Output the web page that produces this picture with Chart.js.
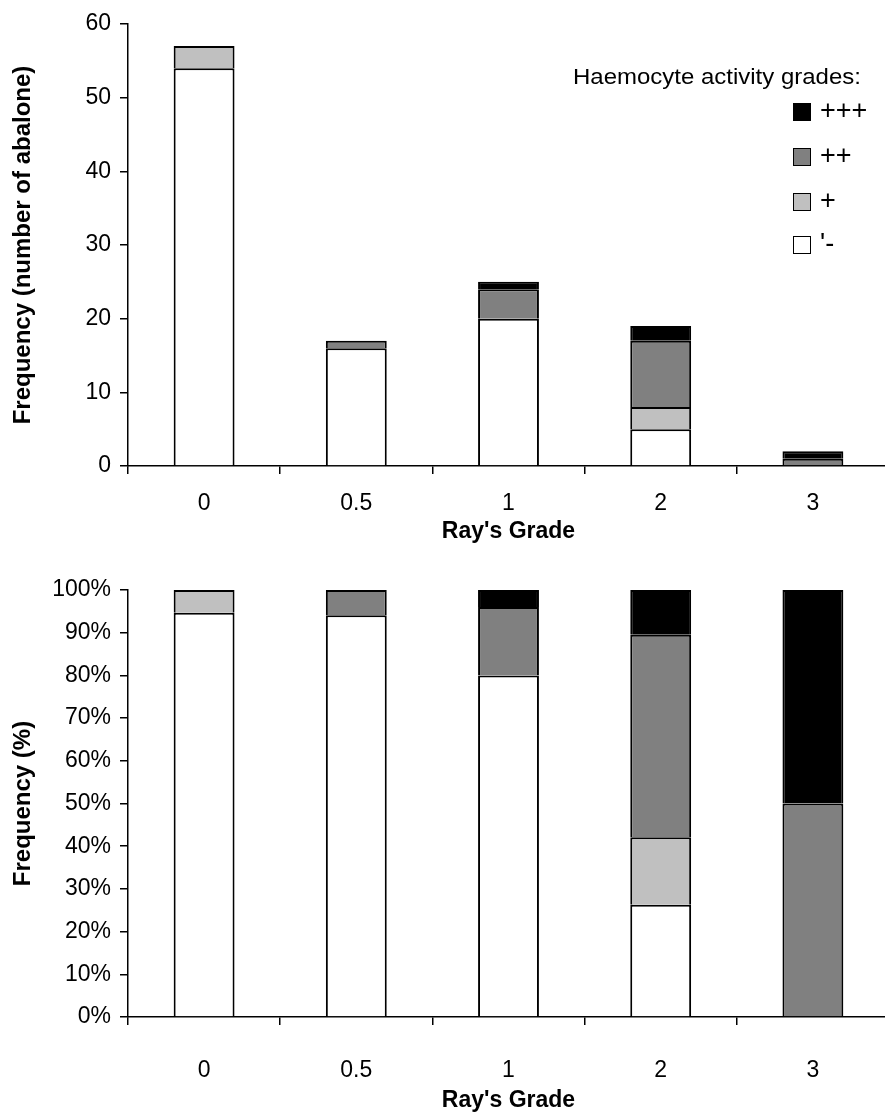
<!DOCTYPE html>
<html>
<head>
<meta charset="utf-8">
<script src="https://cdn.jsdelivr.net/npm/chart.js@4/dist/chart.umd.min.js"></script>
<style>
  html, body { margin:0; padding:0; background:#fff; }
  body { width:885px; height:1113px; overflow:hidden; position:relative; font-family:"Liberation Sans", Arial, sans-serif; }
  .box { position:absolute; left:0; width:889px; }
  #legend { position:absolute; left:0; top:0; width:885px; height:300px; pointer-events:none; color:#000; }
  #legend .title { position:absolute; left:573px; top:64px; font-size:22px; line-height:26px; white-space:nowrap; transform:scaleX(1.09); transform-origin:0 0; }
  #legend .item { position:absolute; left:793px; height:26px; white-space:nowrap; }
  #legend .sw { position:absolute; left:0; top:2px; width:16px; height:16px; border:1.5px solid #000; }
  #legend .lb { position:absolute; left:27px; top:-4px; font-size:27px; line-height:26px; }
</style>
</head>
<body>
<div class="box" style="top:0;height:550px;"><canvas id="c1"></canvas></div>
<div class="box" style="top:550px;height:570px;"><canvas id="c2"></canvas></div>
<div id="legend"></div>
<script>
// ---- data ----
const categories = ['0', '0.5', '1', '2', '3'];
const seriesNames = ["'-", '+', '++', '+++'];
const seriesColors = ['#ffffff', '#c0c0c0', '#808080', '#000000'];
const legendTitle = 'Haemocyte activity grades:';

const countMinus = [54, 16, 20, 5, 0];
const countPlus = [3, 0, 0, 3, 0];
const countPlusPlus = [0, 1, 4, 9, 1];
const countPlusPlusPlus = [0, 0, 1, 2, 1];

const pctMinus = [94.7, 94.1, 80, 26.3, 0];
const pctPlus = [5.3, 0, 0, 15.8, 0];
const pctPlusPlus = [0, 5.9, 16, 47.4, 50];
const pctPlusPlusPlus = [0, 0, 4, 10.5, 50];

const countAxis = { min: 0, max: 60, step: 10, title: 'Frequency (number of abalone)' };
const pctAxis = { min: 0, max: 100, step: 10, title: 'Frequency (%)' };
const xTitle = "Ray's Grade";

// ---- chart ----
Chart.defaults.font.family = '"Liberation Sans", Arial, sans-serif';
Chart.defaults.color = '#000';

function makeDatasets(arrs) {
  return arrs.map((d, i) => ({
    label: seriesNames[i],
    data: d,
    backgroundColor: seriesColors[i],
    borderColor: '#000',
    borderWidth: 2,
    borderSkipped: 'start',
    barPercentage: 1,
    categoryPercentage: 0.4
  }));
}

function makeConfig(arrs, axis, fmt, cfg) {
  return {
    type: 'bar',
    data: { labels: categories, datasets: makeDatasets(arrs) },
    options: {
      responsive: true,
      maintainAspectRatio: false,
      animation: false,
      layout: { padding: { top: cfg.padTop, left: 0, right: 0, bottom: 0 } },
      plugins: { legend: { display: false }, tooltip: { enabled: false } },
      scales: {
        x: {
          stacked: true,
          grid: { display: true, offset: true, drawOnChartArea: false, drawTicks: true, tickLength: 8, color: '#000', lineWidth: 1.5 },
          border: { display: true, color: '#000', width: 1.5 },
          ticks: { font: { size: 23 }, padding: cfg.xTickPad, maxRotation: 0 },
          title: { display: true, text: xTitle, font: { size: 23, weight: 'bold' }, padding: { top: 0, bottom: cfg.xTitlePad } },
          afterFit: s => { s.height = cfg.xHeight; }
        },
        y: {
          stacked: true,
          min: axis.min, max: axis.max,
          grid: { display: true, drawOnChartArea: false, drawTicks: true, tickLength: 8, color: '#000', lineWidth: 1.5 },
          border: { display: true, color: '#000', width: 1.5 },
          ticks: { stepSize: axis.step, font: { size: 23 }, padding: 9, callback: fmt },
          title: { display: true, text: axis.title, font: { size: 24, weight: 'bold' }, padding: { top: 9, bottom: 0 } },
          afterFit: s => { s.width = 128; }
        }
      }
    }
  };
}

new Chart(document.getElementById('c1'), makeConfig(
  [countMinus, countPlus, countPlusPlus, countPlusPlusPlus], countAxis, v => v,
  { padTop: 24, xHeight: 84, xTickPad: 16, xTitlePad: 5 }));

new Chart(document.getElementById('c2'), makeConfig(
  [pctMinus, pctPlus, pctPlusPlus, pctPlusPlusPlus], pctAxis, v => v + '%',
  { padTop: 40, xHeight: 103, xTickPad: 32, xTitlePad: 6 }));

// ---- legend (HTML, built from the series arrays) ----
const lg = document.getElementById('legend');
const t = document.createElement('div');
t.className = 'title'; t.textContent = legendTitle; lg.appendChild(t);
const rowTops = [101, 146, 191, 234];
for (let k = 0; k < seriesNames.length; k++) {
  const i = seriesNames.length - 1 - k;
  const it = document.createElement('div');
  it.className = 'item'; it.style.top = rowTops[k] + 'px';
  const sw = document.createElement('div');
  sw.className = 'sw'; sw.style.background = seriesColors[i];
  const lb = document.createElement('div');
  lb.className = 'lb'; lb.textContent = seriesNames[i];
  it.appendChild(sw); it.appendChild(lb); lg.appendChild(it);
}
</script>
</body>
</html>
